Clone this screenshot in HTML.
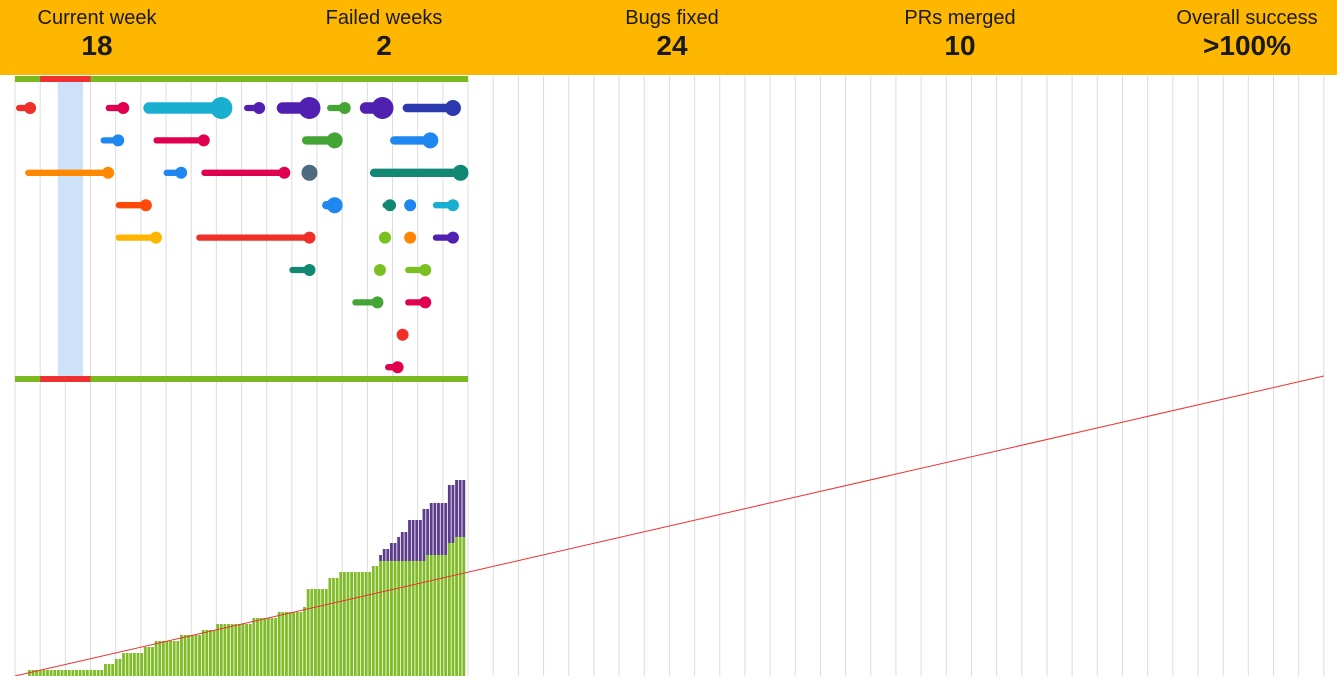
<!DOCTYPE html>
<html><head><meta charset="utf-8">
<style>
html,body{margin:0;padding:0;background:#fff;width:1337px;height:676px;overflow:hidden;font-family:"Liberation Sans",sans-serif}
#hdr{position:absolute;left:0;top:0;width:1337px;height:75px;background:#fdb700}
.stat{position:absolute;top:6px;width:200px;margin-left:-100px;text-align:center;color:#1a1a1a}
.stat .l{font-size:20px;line-height:24px}
.stat .v{font-size:28px;font-weight:bold;line-height:32px}
svg{position:absolute;left:0;top:0}
</style></head><body>
<div id="hdr">
<div class="stat" style="left:97px"><div class="l">Current week</div><div class="v">18</div></div>
<div class="stat" style="left:384px"><div class="l">Failed weeks</div><div class="v">2</div></div>
<div class="stat" style="left:672px"><div class="l">Bugs fixed</div><div class="v">24</div></div>
<div class="stat" style="left:960px"><div class="l">PRs merged</div><div class="v">10</div></div>
<div class="stat" style="left:1247px"><div class="l">Overall success</div><div class="v">&gt;100%</div></div>
</div>
<svg id="chart" width="1337" height="676"></svg>
<script>
// week grid
const weekCount = 52;
const failedWeeks = [1, 2];
const currentWeek = 1.7;
// bar chart data (cumulative)
const greenValues = [6,6,6,6,6,6,6,6,6,6,6,6,6,6,6,6,6,6,6,6,6,12,12,12,17,17,23,23,23,23,23,23,29,29,29,35,35,35,35,35,35,35,41,41,41,41,41,41,46,46,46,46,52,52,52,52,52,52,52,52,52,52,58,58,58,58,58,58,58,64,64,64,64,64,64,64,69,87,87,87,87,87,87,98,98,98,104,104,104,104,104,104,104,104,104,110,110,115,115,115,115,115,115,115,115,115,115,115,115,115,121,121,121,121,121,121,133,133,139,139,139];
const purpleValues = [0,0,0,0,0,0,0,0,0,0,0,0,0,0,0,0,0,0,0,0,0,0,0,0,0,0,0,0,0,0,0,0,0,0,0,0,0,0,0,0,0,0,0,0,0,0,0,0,0,0,0,0,0,0,0,0,0,0,0,0,0,0,0,0,0,0,0,0,0,0,0,0,0,0,0,0,0,0,0,0,0,0,0,0,0,0,0,0,0,0,0,0,0,0,0,0,0,6,12,12,18,18,24,29,29,41,41,41,41,52,46,52,52,52,52,52,58,58,57,57,57];
const targetLine = [0, 300];
// timeline items: [row, startWeek, endWeek, radius, color]
const itemRows  = [0,0,0,0,0,0,0,0, 1,1,1,1, 2,2,2,2,2, 3,3,3,3,3, 4,4,4,4,4, 5,5,5, 6,6, 7, 8];
const itemStart = [0.04,3.6,5.1,9.1,10.4,12.4,13.7,15.4, 3.4,5.5,11.4,14.9, 0.4,5.9,7.4,11.7,14.1, 4.0,12.2,14.6,15.7,16.6, 4.0,7.2,14.7,15.7,16.6, 10.9,14.5,15.5, 13.4,15.5, 15.4, 14.7];
const itemEnd   = [0.6,4.3,8.2,9.7,11.7,13.1,14.6,17.4, 4.1,7.5,12.7,16.5, 3.7,6.6,10.7,11.7,17.7, 5.2,12.7,14.9,15.7,17.4, 5.6,11.7,14.7,15.7,17.4, 11.7,14.5,16.3, 14.4,16.3, 15.4, 15.2];
const itemRadius= [6,6,11,6,11,6,11,8, 6,6,8,8, 6,6,6,8,8, 6,8,6,6,6, 6,6,6,6,6, 6,6,6, 6,6, 6, 6];
const itemColor = ["#f03028","#e0004f","#1aafd0","#5020b0","#5020b0","#44a535","#5020b0","#2c3ab0","#1e87f0","#e0004f","#44a535","#1e87f0","#ff8800","#1e87f0","#e0004f","#4e6a80","#128874","#ff4a0a","#1e87f0","#128874","#1e87f0","#1aafd0","#ffb400","#f03028","#7ac020","#ff8800","#5020b0","#128874","#7ac020","#7ac020","#44a535","#e0004f","#f03028","#e0004f"];

const NS="http://www.w3.org/2000/svg";
const svg=document.getElementById('chart');
function mk(t,a){const e=document.createElementNS(NS,t);for(const k in a)e.setAttribute(k,a[k]);svg.appendChild(e);return e;}
const x0=15, wk=25.17;
const xW=w=>x0+w*wk;
const rowY=r=>108+r*32.4;
const baseY=676;
const yV=v=>baseY-v;
const barX0=28, barW=3.62;

for(let i=0;i<=weekCount;i++){
  const g=mk('line',{x1:xW(i),x2:xW(i),y1:76,y2:676,stroke:'#dcdcdc','stroke-width':1});
  
  
}
const hl=mk('rect',{x:xW(currentWeek),y:82,width:wk,height:295,fill:'#cde2f8'});


[76,376].forEach(y=>{
  const b=mk('rect',{x:x0,y:y,width:xW(18)-x0,height:6,fill:'#7aba20'});
  
  
  failedWeeks.forEach(w=>{
    const f=mk('rect',{x:xW(w),y:y,width:wk,height:6,fill:'#ee3030'});
    
    
  });
});
for(let i=0;i<itemRows.length;i++){
  const y=rowY(itemRows[i]),r=itemRadius[i];
  const sw=r*1.05;
  const a=xW(itemStart[i]),b=xW(itemEnd[i]);
  if(b>a+1){
    const l=mk('line',{x1:a+sw/2,x2:b,y1:y,y2:y,stroke:itemColor[i],'stroke-width':sw,'stroke-linecap':'round'});
    
    
  }
  const c=mk('circle',{cx:b,cy:y,r:r,fill:itemColor[i]});
  
  
}
for(let i=0;i<greenValues.length;i++){
  const x=barX0+i*barW;
  const g=mk('rect',{x:x,y:yV(greenValues[i]),width:barW-0.8,height:greenValues[i],fill:'#80bc28'});
  
  
  if(purpleValues[i]>0){
    const p=mk('rect',{x:x,y:yV(greenValues[i]+purpleValues[i]),width:barW-0.8,height:purpleValues[i],fill:'#5c3c8c'});
    
    
  }
}
const tl=mk('line',{x1:x0,y1:yV(targetLine[0]),x2:xW(weekCount),y2:yV(targetLine[1]),stroke:'#ee3030','stroke-width':1});


</script>
</body></html>
